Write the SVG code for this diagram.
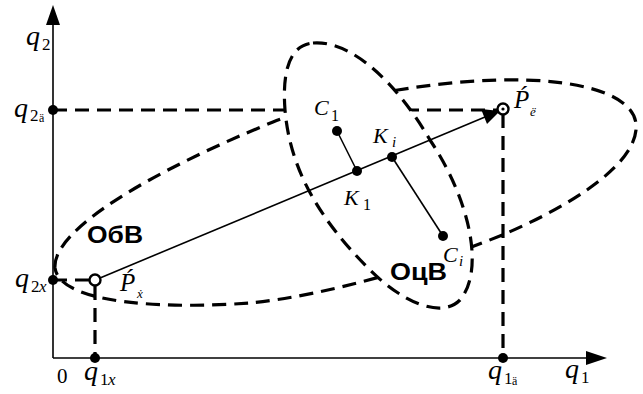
<svg xmlns="http://www.w3.org/2000/svg" width="643" height="394" viewBox="0 0 643 394">
<style>
.ax{stroke:#000;stroke-width:1.6;fill:none}
.ln{stroke:#000;stroke-width:1.6;fill:none}
.dash{stroke:#000;stroke-width:3.2;fill:none;stroke-dasharray:14 8}
.dot{fill:#000}
.m{font-family:'Liberation Serif','Times New Roman','DejaVu Serif',serif;font-style:italic;fill:#000}
.r{font-family:'Liberation Serif','Times New Roman','DejaVu Serif',serif;fill:#000}
.b{font-family:'Liberation Sans',Arial,sans-serif;font-weight:bold;fill:#000}
</style>
<rect width="643" height="394" fill="#fff"/>
<g id="obv-region">
<path class="dash" d="M55,268 C52,230 150,172 273,122 C330,100 420,82 500,80 C580,78 640,95 636,130 C632,170 560,210 507,233 C430,265 330,295 250,303 C170,309 60,305 55,268 Z"/>
</g>
<g id="connectors">
<line class="dash" x1="53" y1="110" x2="497" y2="110"/>
<line class="dash" x1="503" y1="114" x2="503" y2="358"/>
<line class="dash" x1="53" y1="280" x2="90" y2="280"/>
<line class="dash" x1="95" y1="286" x2="95" y2="358"/>
</g>
<g id="ocv-region">
<path class="dash" style="fill:#fff" d="M313,43 C350,40 395,80 430,140 C470,200 485,270 460,300 C440,320 400,300 370,270 C320,220 290,170 285,110 C282,70 290,45 313,43 Z"/>
</g>
<g id="axes">
<line class="ax" x1="53" y1="358" x2="53" y2="24"/>
<polygon points="53,5 46,25 60,25" fill="#000"/>
<line class="ax" x1="53" y1="358" x2="588" y2="358"/>
<polygon points="607,358 586,351 586,365" fill="#000"/>
</g>
<g id="path-line">
<line class="ln" x1="100" y1="278" x2="485" y2="117"/>
<polygon points="500,111 481,109 487,124" fill="#000"/>
<line class="ln" x1="337" y1="131" x2="357" y2="171"/>
<line class="ln" x1="392" y1="157" x2="443" y2="236"/>
</g>
<g id="points">
<circle class="dot" cx="53" cy="110" r="5"/>
<circle class="dot" cx="53" cy="280" r="5"/>
<circle class="dot" cx="95" cy="358" r="5"/>
<circle class="dot" cx="503" cy="358" r="5"/>
<circle class="dot" cx="337" cy="131" r="5"/>
<circle class="dot" cx="357" cy="171" r="5"/>
<circle class="dot" cx="392" cy="157" r="5"/>
<circle class="dot" cx="443" cy="236" r="5"/>
<circle cx="95" cy="280" r="5.5" fill="#fff" stroke="#000" stroke-width="2.4"/>
<circle cx="503" cy="109" r="5.5" fill="#fff" stroke="#000" stroke-width="2.4"/>
<circle class="dot" cx="503" cy="109" r="1.6"/>
</g>
<g id="labels">
<text class="m" x="26" y="45" font-size="28">q</text><text class="r" x="42" y="50" font-size="17">2</text>
<text class="m" x="14" y="117" font-size="28">q</text><text class="r" x="30" y="121" font-size="17">2</text><text class="r" x="39" y="122" font-size="12">ӓ</text>
<text class="m" x="15" y="287" font-size="28">q</text><text class="r" x="31" y="292" font-size="17">2</text><text class="m" x="39" y="292" font-size="17">x</text>
<text class="r" x="57" y="383" font-size="21">0</text>
<text class="m" x="84" y="380" font-size="28">q</text><text class="r" x="100" y="385" font-size="17">1</text><text class="m" x="108" y="385" font-size="17">x</text>
<text class="m" x="488" y="379" font-size="28">q</text><text class="r" x="504" y="384" font-size="17">1</text><text class="r" x="512" y="385" font-size="12">ӓ</text>
<text class="m" x="565" y="378" font-size="28">q</text><text class="r" x="581" y="383" font-size="17">1</text>
<text class="m" x="314" y="115" font-size="22">C</text><text class="r" x="331" y="121" font-size="16">1</text>
<text class="m" x="373" y="143" font-size="22">K</text><text class="m" x="392" y="147" font-size="15">i</text>
<text class="m" x="344" y="205" font-size="22">K</text><text class="r" x="363" y="210" font-size="16">1</text>
<text class="m" x="443" y="262" font-size="22">C</text><text class="m" x="459" y="266" font-size="15">i</text>
<text class="m" x="514" y="108" font-size="25">Ṕ</text><text class="m" x="530" y="116" font-size="13">ё</text>
<text class="m" x="120" y="291" font-size="25">Ṕ</text><text class="m" x="137" y="298" font-size="13">ẋ</text>
<text class="b" x="87" y="243" font-size="23" textLength="56" lengthAdjust="spacingAndGlyphs">ОбВ</text>
<text class="b" x="390" y="280" font-size="23" textLength="57" lengthAdjust="spacingAndGlyphs">ОцВ</text>
</g>
</svg>
